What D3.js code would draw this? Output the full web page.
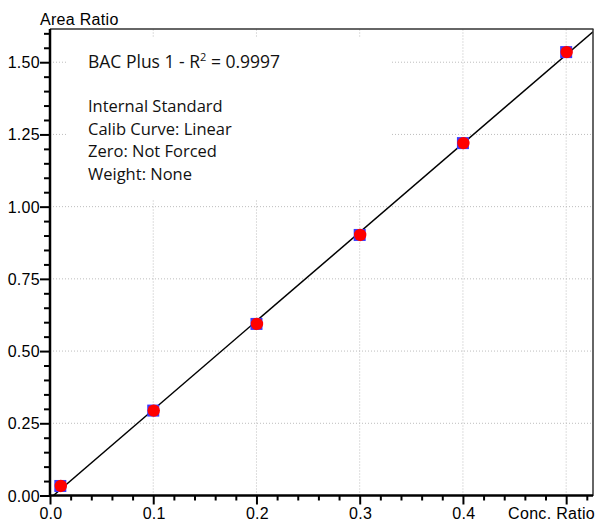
<!DOCTYPE html>
<html lang="en">
	<head>
		<meta charset="utf-8">
		<title>Calibration curve</title>
		<script src="https://cdnjs.cloudflare.com/ajax/libs/d3/7.8.5/d3.min.js"></script>
		<style type="text/css">
			body { margin: 0; background: #fff; }
			.tick-label { font-family: "Liberation Sans", Arial, sans-serif; font-size: 16px; letter-spacing: 0.3px; fill: #000; }
			.note { font-family: "Open Sans", "Noto Sans", sans-serif; font-size: 16.5px; fill: #111; }
		</style>
	</head>
	<body>
		<script type="text/javascript">

			//Data
			var concRatio = [0.01, 0.1, 0.2, 0.3, 0.4, 0.5];
			var areaRatio = [0.033, 0.294, 0.594, 0.902, 1.220, 1.535];
			var fitSlope = 3.072;
			var fitIntercept = -0.0102;
			var xTickLabels = ["0.0", "0.1", "0.2", "0.3", "0.4"];
			var yTickLabels = ["0.00", "0.25", "0.50", "0.75", "1.00", "1.25", "1.50"];
			var noteLines = ["Internal Standard", "Calib Curve: Linear", "Zero: Not Forced", "Weight: None"];

			//Width and height
			var w = 596;
			var h = 522;

			var x = d3.scaleLinear().domain([0, 0.526]).range([50, 593]);
			var y = d3.scaleLinear().domain([0, 1.615]).range([495.5, 29]);

			var svg = d3.select("body")
						.append("svg")
						.attr("width", w)
						.attr("height", h);

			//Grid
			var xGrid = [0.1, 0.2, 0.3, 0.4, 0.5];
			var yGrid = yTickLabels.map(Number).filter(function(d) { return d > 0; });

			svg.selectAll("line.vgrid")
				.data(xGrid)
				.enter()
				.append("line")
				.attr("class", "vgrid")
				.attr("x1", function(d) { return x(d); })
				.attr("x2", function(d) { return x(d); })
				.attr("y1", y.range()[0])
				.attr("y2", y.range()[1])
				.style("stroke", "#bdbdbd")
				.style("stroke-width", 1)
				.style("stroke-dasharray", "1,2");

			svg.selectAll("line.hgrid")
				.data(yGrid)
				.enter()
				.append("line")
				.attr("class", "hgrid")
				.attr("x1", x.range()[0])
				.attr("x2", x.range()[1])
				.attr("y1", function(d) { return y(d); })
				.attr("y2", function(d) { return y(d); })
				.style("stroke", "#bdbdbd")
				.style("stroke-width", 1)
				.style("stroke-dasharray", "1,2");

			//Info box
			svg.append("rect")
				.attr("x", 68).attr("y", 37)
				.attr("width", 323).attr("height", 163)
				.style("fill", "#fff");

			var title = svg.append("text")
				.attr("class", "note")
				.attr("x", 88)
				.attr("y", 68)
				.style("font-size", "17.5px");
			title.append("tspan").text("BAC Plus 1 - R");
			title.append("tspan").attr("dy", -7).style("font-size", "11px").text("2");
			title.append("tspan").attr("dy", 7).text(" = 0.9997");

			svg.selectAll("text.line")
				.data(noteLines)
				.enter()
				.append("text")
				.attr("class", "note line")
				.attr("x", 88)
				.attr("y", function(d, i) { return 112 + i * 22.5; })
				.text(function(d) { return d; });

			//Fit line
			svg.append("clipPath")
				.attr("id", "plot-clip")
				.append("rect")
				.attr("x", 50).attr("y", 29)
				.attr("width", 543).attr("height", 466.5);

			svg.append("line")
				.attr("clip-path", "url(#plot-clip)")
				.attr("x1", x(-fitIntercept / fitSlope))
				.attr("y1", y(0))
				.attr("x2", x(0.526))
				.attr("y2", y(fitSlope * 0.526 + fitIntercept))
				.style("stroke", "#000")
				.style("stroke-width", 1.5);

			//Points
			var pts = concRatio.map(function(d, i) { return [d, areaRatio[i]]; });

			svg.selectAll("rect.pt")
				.data(pts)
				.enter()
				.append("rect")
				.attr("class", "pt")
				.attr("x", function(d) { return x(d[0]) - 6; })
				.attr("y", function(d) { return y(d[1]) - 6; })
				.attr("width", 12)
				.attr("height", 12)
				.style("fill", "#3a3aff");

			svg.selectAll("circle.pt")
				.data(pts)
				.enter()
				.append("circle")
				.attr("class", "pt")
				.attr("cx", function(d) { return x(d[0]) + 0.5; })
				.attr("cy", function(d) { return y(d[1]); })
				.attr("r", 6.2)
				.style("fill", "#ff0000");

			//Border
			svg.append("line")
				.attr("x1", 50).attr("x2", 593.5).attr("y1", 29).attr("y2", 29)
				.style("stroke", "#333").style("stroke-width", 1.5);
			svg.append("line")
				.attr("x1", 593).attr("x2", 593).attr("y1", 29).attr("y2", 496)
				.style("stroke", "#333").style("stroke-width", 1.5);

			//Axes
			var xAxis = d3.axisBottom(x)
				.tickValues(d3.range(0, 0.521, 0.02))
				.tickSize(5)
				.tickFormat("");
			var yAxis = d3.axisLeft(y)
				.tickValues(d3.range(0, 1.601, 0.05))
				.tickSize(6)
				.tickFormat("");

			var gx = svg.append("g")
				.attr("transform", "translate(0," + y(0) + ")")
				.call(xAxis);
			gx.selectAll("line").style("stroke-width", 2);
			gx.selectAll(".tick")
				.filter(function(d) { return Math.abs(d * 10 - Math.round(d * 10)) < 1e-6; })
				.select("line").attr("y2", 9);
			gx.select(".domain").attr("d", "M50,0H593").style("stroke-width", 2.5);

			var gy = svg.append("g")
				.attr("transform", "translate(" + x(0) + ",0)")
				.call(yAxis);
			gy.selectAll("line").style("stroke-width", 2);
			gy.selectAll(".tick")
				.filter(function(d) { return Math.abs(d * 4 - Math.round(d * 4)) < 1e-6; })
				.select("line").attr("x2", -10);
			gy.select(".domain").attr("d", "M0,29V" + (y(0) + 1)).style("stroke-width", 2.5);

			//Tick labels
			svg.selectAll("text.xl")
				.data(xTickLabels)
				.enter()
				.append("text")
				.attr("class", "tick-label xl")
				.attr("x", function(d) { return x(+d) + 1; })
				.attr("y", 519)
				.attr("text-anchor", "middle")
				.text(function(d) { return d; });

			svg.selectAll("text.yl")
				.data(yTickLabels)
				.enter()
				.append("text")
				.attr("class", "tick-label yl")
				.attr("x", 40)
				.attr("y", function(d) { return y(+d) + 6; })
				.attr("text-anchor", "end")
				.text(function(d) { return d; });

			svg.append("text")
				.attr("class", "tick-label")
				.attr("x", 40)
				.attr("y", 25)
				.text("Area Ratio");

			svg.append("text")
				.attr("class", "tick-label")
				.attr("x", 595)
				.attr("y", 519)
				.attr("text-anchor", "end")
				.text("Conc. Ratio");
		</script>
	</body>
</html>
